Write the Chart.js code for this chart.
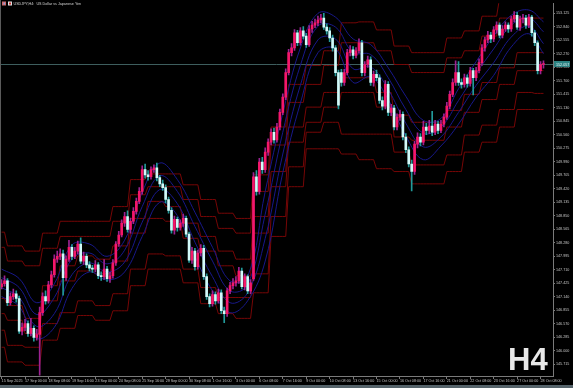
<!DOCTYPE html>
<html>
<head>
<meta charset="utf-8">
<script src="https://cdn.jsdelivr.net/npm/chart.js@4.4.1/dist/chart.umd.min.js"></script>
<style>
  html, body { margin: 0; padding: 0; background: #000; }
  #wrap { width: 573px; height: 388px; }
</style>
</head>
<body>
<div id="wrap"><canvas id="chart" width="573" height="388"></canvas></div>
<script>
// USDJPY H4 candles, 15 Sep 16:00 .. 28 Oct 12:00
const dayNames = ['15 Sep', '16 Sep', '17 Sep', '18 Sep', '19 Sep', '22 Sep', '23 Sep', '24 Sep', '25 Sep', '26 Sep',
    '29 Sep', '30 Sep', '1 Oct', '2 Oct', '3 Oct', '6 Oct', '7 Oct', '8 Oct', '9 Oct', '10 Oct',
    '13 Oct', '14 Oct', '15 Oct', '16 Oct', '17 Oct', '20 Oct', '21 Oct', '22 Oct', '23 Oct', '24 Oct',
    '27 Oct', '28 Oct'];

const opens = [
    147.35, 147.41, 147.47, 147.01, 147.14, 147.20, 147.10, 146.41, 146.49, 146.57,
    146.36, 146.47, 146.28, 146.34, 146.80, 147.14, 147.05, 147.39, 147.60, 147.93,
    147.99, 148.04, 147.54, 147.93, 148.18, 147.99, 148.10, 148.25, 147.89, 147.99,
    147.81, 147.74, 147.72, 147.81, 147.58, 147.56, 147.72, 147.52, 147.58, 147.85,
    148.25, 148.44, 148.69, 148.83, 148.56, 148.73, 148.94, 149.15, 149.36, 149.82,
    149.71, 149.67, 149.82, 149.86, 149.65, 149.52, 149.44, 149.19, 148.96, 148.54,
    148.77, 148.60, 148.69, 148.79, 148.46, 147.91, 148.10, 147.77, 148.06, 148.16,
    147.56, 147.14, 146.99, 147.18, 147.05, 147.22, 146.84, 146.78, 147.26, 147.37,
    147.43, 147.47, 147.68, 147.35, 147.56, 147.26, 147.52, 149.67, 149.36, 149.98,
    149.82, 150.19, 150.40, 150.61, 150.45, 150.72, 151.03, 151.35, 151.87, 152.29,
    152.39, 152.71, 152.50, 152.75, 152.64, 152.46, 152.79, 152.87, 152.92, 152.98,
    153.02, 152.83, 152.75, 152.60, 152.39, 151.87, 151.87, 151.66, 151.87, 152.29,
    152.35, 152.23, 152.33, 152.50, 151.87, 152.04, 152.14, 151.66, 151.83, 151.76,
    151.28, 151.16, 151.62, 151.03, 151.12, 150.72, 150.93, 150.99, 150.51, 150.24,
    149.94, 149.78, 150.36, 150.51, 150.40, 150.72, 150.65, 150.74, 150.61, 150.78,
    150.65, 150.78, 150.93, 151.16, 151.41, 151.66, 151.87, 151.66, 151.62, 151.76,
    151.64, 151.91, 151.76, 151.91, 152.08, 152.39, 152.56, 152.66, 152.58, 152.77,
    152.87, 152.66, 152.79, 152.87, 152.79, 153.00, 153.08, 152.83, 153.00, 153.02,
    152.87, 153.04, 152.71, 152.50, 151.91, 152.04
];
const highs = [
    147.50, 147.58, 147.52, 147.22, 147.30, 147.26, 147.15, 146.58, 146.66, 146.63,
    146.68, 146.52, 146.45, 146.92, 147.22, 147.26, 147.46, 147.68, 148.02, 148.10,
    148.15, 148.12, 148.00, 148.33, 148.24, 148.18, 148.31, 148.38, 148.08, 148.04,
    147.88, 147.80, 147.90, 147.86, 147.66, 147.92, 147.78, 147.65, 147.92, 148.30,
    148.52, 148.76, 148.92, 148.95, 148.80, 149.02, 149.22, 149.44, 149.90, 149.94,
    149.80, 149.88, 149.92, 149.96, 149.70, 149.60, 149.50, 149.24, 149.02, 148.84,
    148.82, 148.76, 148.88, 148.84, 148.50, 148.18, 148.16, 148.12, 148.24, 148.22,
    147.62, 147.20, 147.26, 147.24, 147.30, 147.28, 146.92, 147.32, 147.44, 147.52,
    147.56, 147.76, 147.74, 147.62, 147.60, 147.50, 149.76, 149.80, 150.06, 150.08,
    150.28, 150.47, 150.68, 150.70, 150.80, 151.10, 151.42, 151.95, 152.36, 152.48,
    152.78, 152.76, 152.82, 152.84, 152.70, 152.86, 152.95, 153.00, 153.06, 153.10,
    153.12, 152.90, 152.82, 152.66, 152.44, 151.92, 151.94, 151.94, 152.36, 152.44,
    152.42, 152.40, 152.58, 152.55, 152.10, 152.22, 152.20, 151.90, 151.92, 151.82,
    151.36, 151.70, 151.68, 151.20, 151.18, 151.00, 151.08, 151.04, 150.58, 150.30,
    150.02, 150.42, 150.60, 150.58, 150.84, 150.80, 150.86, 151.05, 150.86, 150.84,
    150.86, 151.00, 151.24, 151.48, 151.74, 152.12, 152.10, 151.74, 151.84, 151.82,
    151.98, 151.96, 151.98, 152.16, 152.46, 152.62, 152.74, 152.72, 152.84, 152.94,
    152.92, 152.86, 152.94, 152.92, 153.06, 153.16, 153.14, 153.06, 153.10, 153.08,
    153.10, 153.08, 152.76, 152.54, 152.10, 152.12
];
const lows = [
    147.30, 147.36, 146.95, 146.96, 147.08, 147.02, 146.36, 146.33, 146.42, 146.30,
    146.31, 146.20, 146.22, 145.48, 146.74, 146.98, 147.00, 147.33, 147.55, 147.86,
    147.92, 147.17, 147.48, 147.88, 147.92, 147.94, 148.04, 147.84, 147.82, 147.75,
    147.68, 147.65, 147.66, 147.52, 147.48, 147.50, 147.46, 147.44, 147.53, 147.80,
    148.20, 148.40, 148.62, 148.50, 148.48, 148.68, 148.88, 149.10, 149.30, 149.64,
    149.60, 149.62, 149.76, 149.58, 149.46, 149.38, 149.12, 148.90, 148.48, 148.46,
    148.52, 148.54, 148.62, 148.40, 147.86, 147.84, 147.70, 147.72, 148.00, 147.50,
    147.08, 146.92, 146.94, 146.98, 147.00, 146.78, 146.59, 146.72, 147.20, 147.30,
    147.36, 147.42, 147.30, 147.28, 147.20, 147.20, 147.48, 149.28, 149.30, 149.74,
    149.76, 150.12, 150.34, 150.38, 150.40, 150.66, 150.98, 151.30, 151.82, 152.22,
    152.34, 152.44, 152.45, 152.58, 152.40, 152.42, 152.72, 152.82, 152.86, 152.92,
    152.78, 152.68, 152.52, 152.32, 151.80, 151.10, 151.58, 151.60, 151.82, 152.22,
    152.16, 152.18, 152.28, 151.80, 151.80, 151.98, 151.60, 151.58, 151.70, 151.22,
    151.08, 151.10, 150.96, 150.96, 150.66, 150.66, 150.86, 150.45, 150.18, 149.88,
    149.37, 149.72, 150.28, 150.32, 150.34, 150.56, 150.58, 150.54, 150.56, 150.58,
    150.60, 150.72, 150.88, 151.10, 151.36, 151.60, 151.60, 151.54, 151.56, 151.56,
    151.58, 151.40, 151.70, 151.86, 152.02, 152.32, 152.50, 152.50, 152.52, 152.70,
    152.60, 152.60, 152.74, 152.72, 152.74, 152.94, 152.78, 152.76, 152.92, 152.80,
    152.82, 152.64, 152.44, 151.84, 151.84, 151.96
];
const closes = [
    147.41, 147.47, 147.01, 147.14, 147.20, 147.10, 146.41, 146.49, 146.57, 146.36,
    146.47, 146.28, 146.34, 146.80, 147.14, 147.05, 147.39, 147.60, 147.93, 147.99,
    148.04, 147.54, 147.93, 148.18, 147.99, 148.10, 148.25, 147.89, 147.99, 147.81,
    147.74, 147.72, 147.81, 147.58, 147.56, 147.72, 147.52, 147.58, 147.85, 148.25,
    148.44, 148.69, 148.83, 148.56, 148.73, 148.94, 149.15, 149.36, 149.82, 149.71,
    149.67, 149.82, 149.86, 149.65, 149.52, 149.44, 149.19, 148.96, 148.54, 148.77,
    148.60, 148.69, 148.79, 148.46, 147.91, 148.10, 147.77, 148.06, 148.16, 147.56,
    147.14, 146.99, 147.18, 147.05, 147.22, 146.84, 146.78, 147.26, 147.37, 147.43,
    147.47, 147.68, 147.35, 147.56, 147.26, 147.43, 149.67, 149.36, 149.98, 149.82,
    150.19, 150.40, 150.61, 150.45, 150.72, 151.03, 151.35, 151.87, 152.29, 152.39,
    152.71, 152.50, 152.75, 152.64, 152.46, 152.79, 152.87, 152.92, 152.98, 153.02,
    152.83, 152.75, 152.60, 152.39, 151.87, 151.18, 151.66, 151.87, 152.29, 152.35,
    152.23, 152.33, 152.50, 151.87, 152.04, 152.14, 151.66, 151.83, 151.76, 151.28,
    151.16, 151.62, 151.03, 151.12, 150.72, 150.93, 150.99, 150.51, 150.24, 149.94,
    149.78, 150.36, 150.51, 150.40, 150.72, 150.65, 150.74, 150.61, 150.78, 150.65,
    150.78, 150.93, 151.16, 151.41, 151.66, 151.87, 151.66, 151.62, 151.76, 151.64,
    151.91, 151.76, 151.91, 152.08, 152.39, 152.56, 152.66, 152.58, 152.77, 152.87,
    152.66, 152.79, 152.87, 152.79, 153.00, 153.08, 152.83, 153.00, 153.02, 152.87,
    153.04, 152.71, 152.50, 151.91, 152.04, 152.057
];

// blue bands, sampled at these bars
const bandBars = [0, 6, 12, 18, 24, 30, 36, 42, 48, 54, 60, 66, 72, 78, 84, 90,
    96, 102, 108, 114, 120, 126, 132, 138, 144, 150, 156, 162, 168, 174, 180, 185];
const bandUpper = [147.72, 147.52, 147.01, 147.41, 148.23, 148.25, 147.99, 148.33, 149.34, 149.96, 149.61, 148.92, 148.18, 147.47, 147.56, 149.36,
    151.01, 152.39, 153.12, 153.04, 152.58, 152.46, 151.97, 151.37, 150.86, 150.90, 151.53, 152.10, 152.64, 153.08, 153.19, 152.94];
const bandUpperIn = [147.54, 147.33, 146.76, 147.12, 147.93, 148.06, 147.83, 148.12, 149.04, 149.69, 149.36, 148.62, 147.89, 147.26, 147.39, 148.88,
    150.61, 152.02, 152.85, 152.83, 152.29, 152.25, 151.76, 151.09, 150.59, 150.72, 151.28, 151.85, 152.37, 152.87, 153.02, 152.73];
const bandLowerIn = [147.33, 147.12, 146.51, 146.78, 147.60, 147.85, 147.66, 147.87, 148.71, 149.40, 149.10, 148.29, 147.56, 147.01, 147.22, 148.37,
    150.15, 151.60, 152.56, 152.58, 151.95, 151.99, 151.51, 150.80, 150.30, 150.51, 151.03, 151.60, 152.08, 152.62, 152.85, 152.48];
const bandLower = [147.14, 146.93, 146.26, 146.49, 147.31, 147.66, 147.49, 147.66, 148.41, 149.13, 148.85, 147.99, 147.26, 146.80, 147.05, 147.89,
    149.76, 151.22, 152.29, 152.37, 151.66, 151.78, 151.30, 150.53, 150.03, 150.32, 150.78, 151.35, 151.81, 152.41, 152.69, 152.27];

// red daily levels, one value per day
const levelU1 = [148.50, 148.21, 148.10, 148.48, 148.73, 148.73, 148.73, 149.04, 149.61, 149.73, 149.73, 149.50, 149.19, 148.90, 148.79, 149.71,
    150.72, 151.62, 152.02, 152.33, 152.92, 152.94, 152.77, 152.43, 152.29, 152.29, 152.60, 152.75, 153.06, 153.44, 153.44, 153.44];
const levelU2 = [148.18, 147.89, 147.79, 148.16, 148.41, 148.41, 148.41, 148.73, 149.29, 149.46, 149.46, 149.19, 148.83, 148.58, 148.48, 149.36,
    150.34, 151.24, 151.62, 152.02, 152.50, 152.50, 152.33, 152.04, 151.87, 151.87, 152.18, 152.33, 152.64, 153.02, 153.02, 153.02];
const levelM1 = [147.10, 146.95, 146.68, 147.37, 147.79, 148.00, 147.93, 148.21, 148.79, 149.15, 149.04, 148.69, 148.41, 148.10, 147.93, 148.83,
    149.78, 150.72, 151.14, 151.45, 151.76, 151.76, 151.45, 150.97, 150.82, 150.82, 151.07, 151.41, 151.66, 151.97, 152.29, 152.29];
const levelM2 = [146.78, 146.64, 146.36, 147.05, 147.47, 147.68, 147.62, 147.89, 148.48, 148.79, 148.73, 148.37, 148.10, 147.79, 147.58, 148.48,
    149.46, 150.40, 150.82, 151.14, 151.45, 151.45, 151.14, 150.51, 150.44, 150.44, 150.72, 151.03, 151.30, 151.62, 151.91, 151.91];
const levelL1 = [146.43, 146.11, 146.07, 146.57, 146.80, 147.05, 146.95, 147.20, 147.72, 148.04, 148.00, 147.72, 147.33, 147.12, 147.12, 147.62,
    148.83, 149.88, 150.61, 150.82, 150.57, 150.57, 150.57, 150.19, 149.92, 149.92, 150.13, 150.55, 150.76, 151.09, 151.45, 151.43];
const levelL2 = [146.07, 145.76, 145.69, 146.22, 146.47, 146.74, 146.64, 146.84, 147.37, 147.72, 147.72, 147.43, 146.99, 146.78, 146.68, 147.22,
    148.41, 149.46, 150.26, 150.26, 150.15, 150.03, 149.84, 149.78, 149.52, 149.52, 149.78, 150.19, 150.40, 150.72, 151.09, 151.09];

// axis labels
const priceTicks = [153.125, 152.840, 152.555, 152.270, 151.985, 151.700, 151.415, 151.130, 150.845,
    150.560, 150.275, 149.990, 149.705, 149.420, 149.135, 148.850, 148.565, 148.280, 147.995,
    147.710, 147.425, 147.140, 146.855, 146.570, 146.285, 146.000, 145.715];
const timeTickBars = [0, 8, 16, 24, 32, 40, 48, 56, 64, 72, 80, 88, 96, 104, 112, 120, 128, 136, 144, 152, 160, 168, 176, 184];
const timeTickLabels = ['15 Sep 2025', '17 Sep 00:00', '18 Sep 08:00', '19 Sep 16:00', '23 Sep 00:00', '24 Sep 08:00',
    '25 Sep 16:00', '29 Sep 00:00', '30 Sep 08:00', '1 Oct 16:00', '3 Oct 00:00', '6 Oct 08:00',
    '7 Oct 16:00', '9 Oct 00:00', '10 Oct 08:00', '13 Oct 16:00', '15 Oct 00:00', '16 Oct 08:00',
    '17 Oct 16:00', '21 Oct 00:00', '22 Oct 08:00', '23 Oct 16:00', '27 Oct 00:00', '28 Oct 08:00'];

// which trading day each H4 bar belongs to
const barDay = [];
dayNames.forEach((d, k) => {
    const hours = k === 0 ? [16, 20] : (k === dayNames.length - 1 ? [0, 4, 8, 12] : [0, 4, 8, 12, 16, 20]);
    hours.forEach(() => barDay.push(k));
});

const bars = closes.map((c, i) => i);
const isUp = bars.map(i => closes[i] >= opens[i]);

const axisColor = '#7a7a7a';
const textColor = '#c4c4c4';
const smallFont = { family: 'Liberation Sans', size: 3.7 };
const redColor = '#760606';
const blueColor = '#18188a';

const levelLine = vals => ({
    type: 'line',
    data: bars.map(i => ({ x: i, y: vals[barDay[i]] })),
    borderColor: redColor, borderWidth: 1, pointRadius: 0, tension: 0, order: 4
});
const bandLine = vals => ({
    type: 'line',
    data: bandBars.map((b, k) => ({ x: b, y: vals[k] })),
    borderColor: blueColor, borderWidth: 1, pointRadius: 0, tension: 0.4, order: 3
});

const mtDecor = {
    id: 'mtDecor',
    beforeDraw(chart) {
        const ctx = chart.ctx;
        ctx.save();
        ctx.fillStyle = '#000';
        ctx.fillRect(0, 0, chart.width, chart.height);
        ctx.restore();
    },
    beforeDatasetsDraw(chart) {
        const { ctx, chartArea: a, scales: { y } } = chart;
        const py = Math.round(y.getPixelForValue(closes[closes.length - 1])) + 0.5;
        ctx.save();
        ctx.strokeStyle = '#3e5e5e';
        ctx.lineWidth = 1;
        ctx.beginPath();
        ctx.moveTo(a.left, py);
        ctx.lineTo(a.right, py);
        ctx.stroke();
        ctx.restore();
    },
    afterDraw(chart) {
        const { ctx, chartArea: a, scales: { y } } = chart;
        const last = closes[closes.length - 1];
        const py = Math.round(y.getPixelForValue(last));
        ctx.save();
        // price box on the axis
        ctx.fillStyle = '#2a8181';
        ctx.fillRect(a.right + 1, py - 3, 16, 6);
        ctx.fillStyle = '#e6f4f4';
        ctx.font = '3.7px "Liberation Sans"';
        ctx.textBaseline = 'middle';
        ctx.textAlign = 'left';
        ctx.fillText(last.toFixed(3), a.right + 3, py + 0.5);

        // left window edge
        ctx.fillStyle = '#5a5a5a';
        ctx.fillRect(0, 0, 1, a.bottom);

        // symbol caption
        ctx.fillStyle = '#cf6a6a';
        ctx.fillRect(2, 1.5, 4, 4);
        ctx.fillStyle = '#8aa0e0';
        ctx.fillRect(3.5, 2.5, 1.5, 2);
        ctx.fillStyle = '#e2e2e2';
        ctx.fillRect(8, 1.5, 4, 4);
        ctx.fillStyle = '#c83030';
        ctx.fillRect(9, 2.5, 2, 2);
        ctx.fillStyle = '#d2d2d2';
        ctx.fillText('USDJPY,H4:  US Dollar vs Japanese Yen', 13.5, 3.6);

        // timeframe watermark
        ctx.font = 'bold 31px "Liberation Sans"';
        ctx.textBaseline = 'alphabetic';
        ctx.fillStyle = '#e8e8e8';
        ctx.fillText('H4', 508, 370);

        // strip below the time scale
        ctx.fillStyle = '#55636a';
        ctx.fillRect(0, 385, chart.width, 3);
        ctx.restore();
    }
};

new Chart(document.getElementById('chart').getContext('2d'), {
    type: 'bar',
    data: {
        datasets: [
            {
                type: 'bar',
                data: bars.map(i => ({ x: i, y: [opens[i], closes[i]] })),
                backgroundColor: bars.map(i => isUp[i] ? '#f5176a' : '#d2fafa'),
                barThickness: 2, minBarLength: 1, grouped: false, order: 0
            },
            {
                type: 'bar',
                data: bars.map(i => ({ x: i, y: [lows[i], highs[i]] })),
                backgroundColor: bars.map(i => isUp[i] ? '#9c2292' : '#229a9a'),
                barThickness: 1, grouped: false, order: 1
            },
            bandLine(bandUpper),
            bandLine(bandUpperIn),
            bandLine(bandLowerIn),
            bandLine(bandLower),
            levelLine(levelU1),
            levelLine(levelU2),
            levelLine(levelM1),
            levelLine(levelM2),
            levelLine(levelL1),
            levelLine(levelL2)
        ]
    },
    options: {
        responsive: false,
        animation: false,
        devicePixelRatio: 1,
        events: [],
        layout: { padding: 0 },
        plugins: { legend: { display: false }, tooltip: { enabled: false } },
        scales: {
            x: {
                type: 'linear',
                min: -0.546,
                max: 188.25,
                offset: false,
                afterFit: s => { s.height = 12; },
                afterBuildTicks: s => { s.ticks = timeTickBars.map(v => ({ value: v })); },
                ticks: {
                    callback: (v, i) => timeTickLabels[i],
                    autoSkip: false, maxRotation: 0, minRotation: 0,
                    align: 'start', padding: 0,
                    color: textColor, font: smallFont
                },
                grid: { display: true, offset: false, drawOnChartArea: false, drawTicks: true, tickLength: 3, color: axisColor },
                border: { display: true, color: axisColor }
            },
            y: {
                type: 'linear',
                position: 'right',
                min: 145.463,
                max: 153.334,
                afterFit: s => { s.width = 20; },
                afterBuildTicks: s => { s.ticks = priceTicks.map(v => ({ value: v })); },
                ticks: {
                    callback: v => v.toFixed(3),
                    autoSkip: false, padding: 1,
                    color: textColor, font: smallFont
                },
                grid: { display: true, drawOnChartArea: false, drawTicks: true, tickLength: 2, color: axisColor },
                border: { display: true, color: axisColor }
            }
        }
    },
    plugins: [mtDecor]
});
</script>
</body>
</html>
